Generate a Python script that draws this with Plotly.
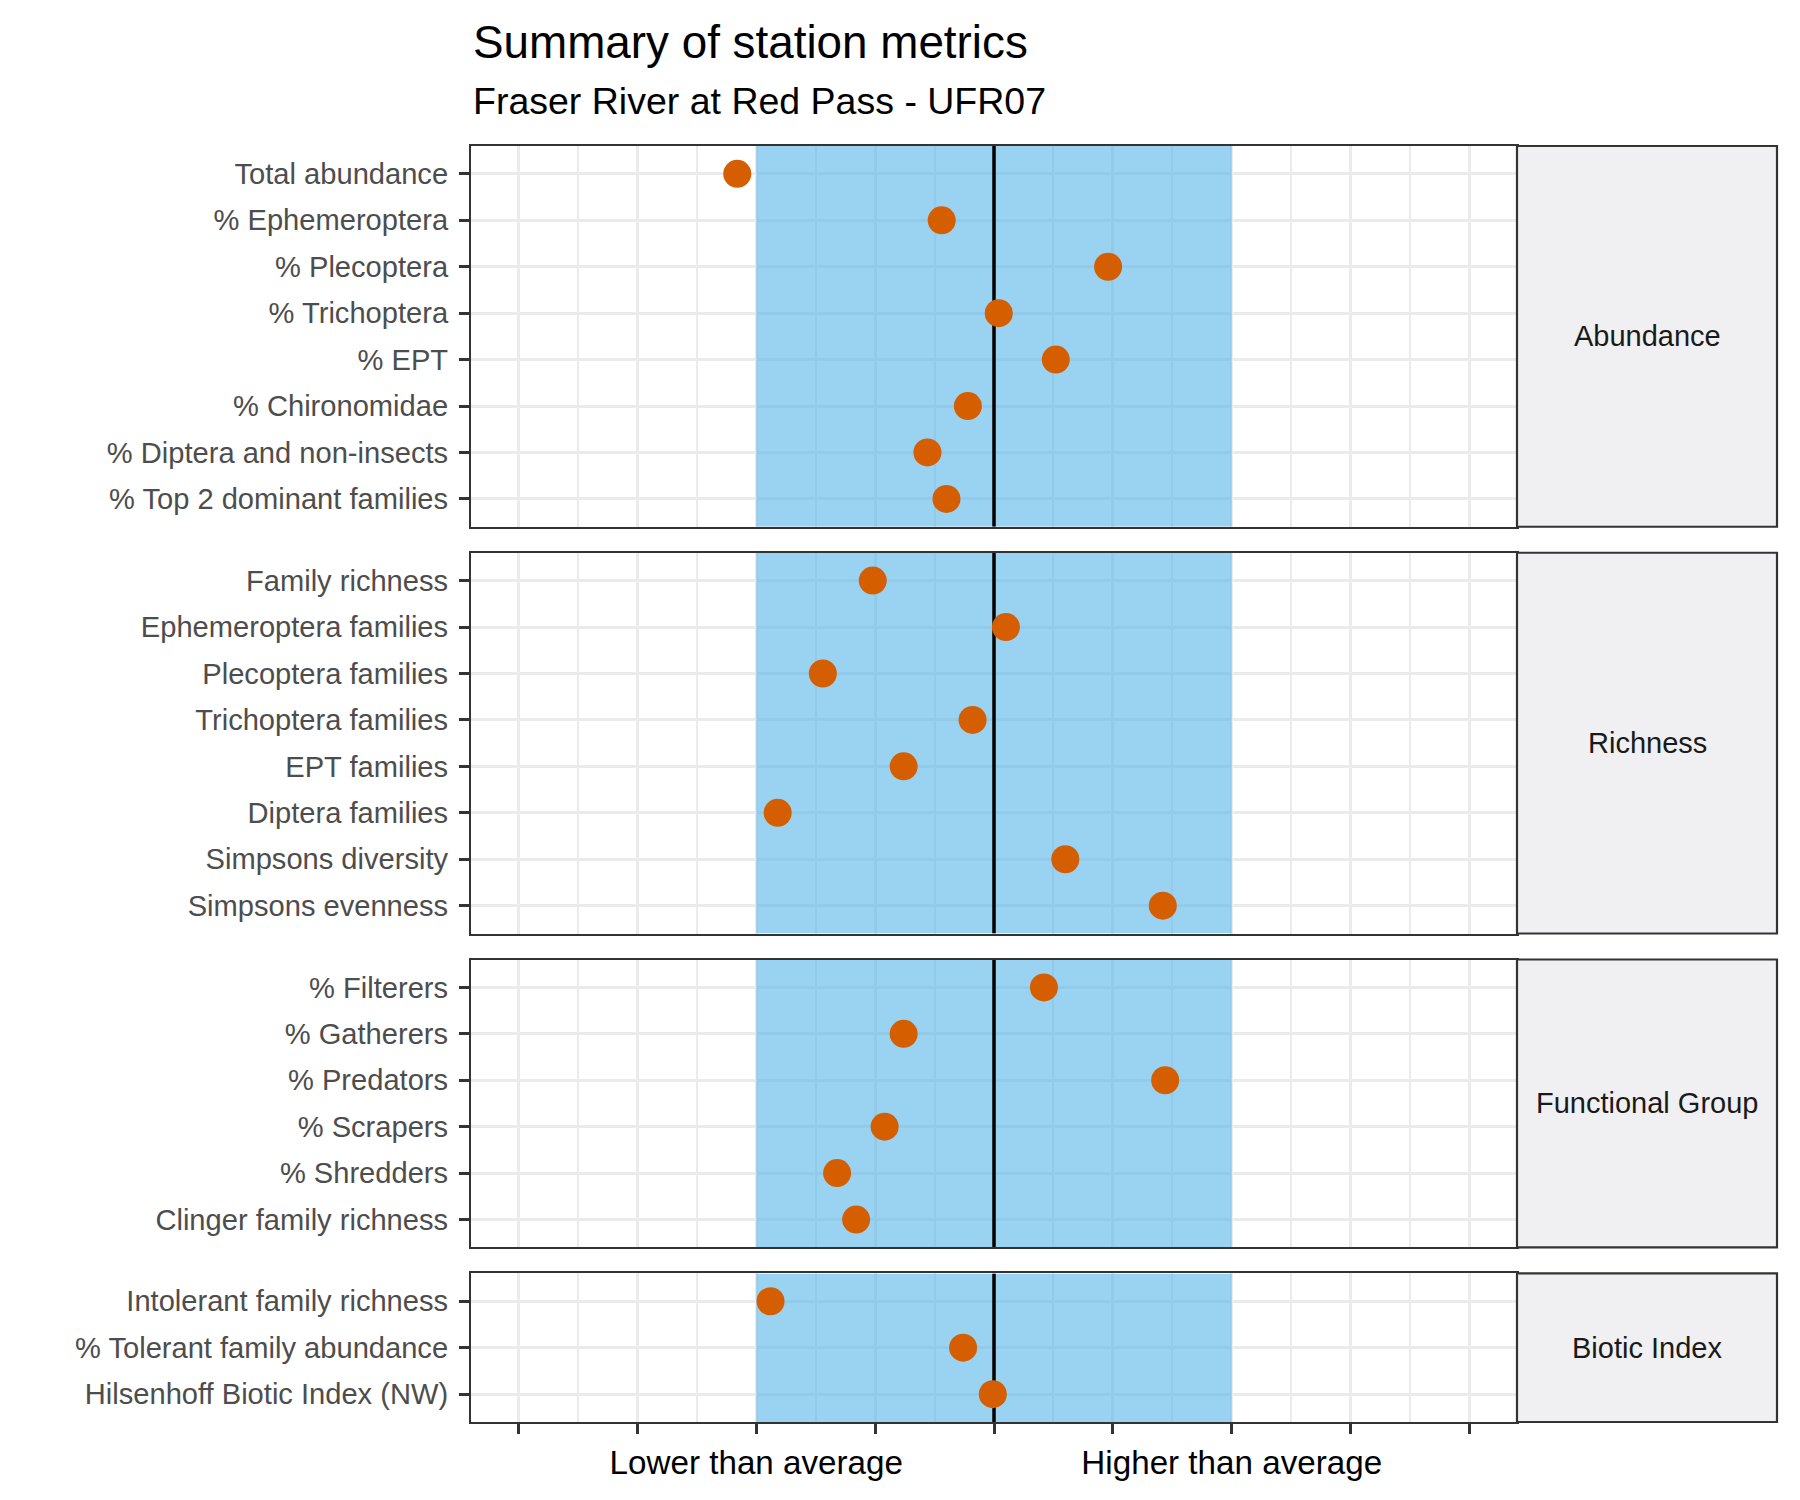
import plotly.graph_objects as go

# ---------------- data ----------------
title_text = "Summary of station metrics"
subtitle_text = "Fraser River at Red Pass - UFR07"

groups = ["Abundance", "Richness", "Functional Group", "Biotic Index"]

abundance_metrics = ["Total abundance", "% Ephemeroptera", "% Plecoptera", "% Trichoptera",
                     "% EPT", "% Chironomidae", "% Diptera and non-insects",
                     "% Top 2 dominant families"]
abundance_values = [-1.08, -0.22, 0.48, 0.02, 0.26, -0.11, -0.28, -0.20]

richness_metrics = ["Family richness", "Ephemeroptera families", "Plecoptera families",
                    "Trichoptera families", "EPT families", "Diptera families",
                    "Simpsons diversity", "Simpsons evenness"]
richness_values = [-0.51, 0.05, -0.72, -0.09, -0.38, -0.91, 0.30, 0.71]

functional_metrics = ["% Filterers", "% Gatherers", "% Predators", "% Scrapers",
                      "% Shredders", "Clinger family richness"]
functional_values = [0.21, -0.38, 0.72, -0.46, -0.66, -0.58]

biotic_metrics = ["Intolerant family richness", "% Tolerant family abundance",
                  "Hilsenhoff Biotic Index (NW)"]
biotic_values = [-0.94, -0.13, -0.005]

x_tick_values = [-2, -1.5, -1, -0.5, 0, 0.5, 1, 1.5, 2]
x_tick_labels = ["", "", "Lower than average", "", "", "", "Higher than average", "", ""]
x_minor_values = [-1.75, -1.25, -0.75, -0.25, 0.25, 0.75, 1.25, 1.75]
x_range = [-2.2, 2.2]
band_lower = -1
band_upper = 1
reference_value = 0

panels = [
    (groups[0], abundance_metrics, abundance_values),
    (groups[1], richness_metrics, richness_values),
    (groups[2], functional_metrics, functional_values),
    (groups[3], biotic_metrics, biotic_values),
]

# ---------------- layout geometry ----------------
# page body has an 8px margin, so the figure is drawn 8px smaller and offset
OFF = 8
W, H = 1800 - OFF, 1500 - OFF
left_px, right_px = 471 - OFF, 1517 - OFF
top_px, bottom_px = 146 - OFF, 1422 - OFF
gap_px = 26
strip_w_px = 260
plot_h = bottom_px - top_px
plot_w = right_px - left_px
PAD = 0.6  # discrete-axis expansion

FONT = "Liberation Sans, Arial, Helvetica, sans-serif"
GRID = "#EBEBEB"
BORDER = "#333333"
DOT = "#D55E00"
BAND_FILL = "rgba(86,180,233,0.6)"

units = [len(p[1]) - 1 + 2 * PAD for p in panels]
per_unit = (plot_h - gap_px * (len(panels) - 1)) / sum(units)


def clamp(v):
    return round(min(1.0, max(0.0, v)), 6)


fig = go.Figure()
layout = dict(
    width=W, height=H,
    margin=dict(l=left_px, r=W - right_px, t=top_px, b=H - bottom_px, pad=0),
    plot_bgcolor="white", paper_bgcolor="white",
    font=dict(family=FONT, color="#4D4D4D"),
    showlegend=False,
    hovermode="closest",
)
shapes = []
annotations = []

y_cursor = top_px
n_p = len(panels)
sx1 = 1 + strip_w_px / plot_w
for i, (group, metrics, values) in enumerate(panels):
    sfx = "" if i == 0 else str(i + 1)
    h = units[i] * per_unit
    y0_px, y1_px = y_cursor, y_cursor + h
    y_cursor = y1_px + gap_px
    dom = [clamp((bottom_px - y1_px) / plot_h), clamp((bottom_px - y0_px) / plot_h)]
    is_bottom = i == n_p - 1
    n = len(metrics)
    positions = list(range(n))
    y_lo, y_hi = -PAD, n - 1 + PAD

    xa = dict(
        domain=[0, 1], range=x_range, anchor="y" + sfx,
        tickmode="array", tickvals=x_tick_values, ticktext=x_tick_labels,
        showgrid=True, gridcolor=GRID, gridwidth=3,
        minor=dict(tickmode="array", tickvals=x_minor_values, showgrid=True,
                   gridcolor=GRID, gridwidth=1.5, ticks=""),
        zeroline=False, showline=True, linecolor=BORDER, linewidth=2.2, mirror=True,
        fixedrange=True,
    )
    if i > 0:
        xa["matches"] = "x"
    if is_bottom:
        xa.update(ticks="outside", ticklen=10, tickwidth=2.5, tickcolor=BORDER,
                  showticklabels=True, tickfont=dict(size=33.2, color="#000000", family=FONT),
                  ticklabelstandoff=0)
    else:
        xa.update(ticks="", showticklabels=False)
    layout["xaxis" + sfx] = xa

    ya = dict(
        domain=dom, anchor="x" + sfx, type="linear",
        tickmode="array", tickvals=positions, ticktext=metrics,
        range=[y_hi, y_lo],
        ticks="outside", ticklen=10, tickwidth=2.5, tickcolor=BORDER,
        tickfont=dict(size=29.1, color="#4D4D4D", family=FONT),
        ticklabelstandoff=5,
        showgrid=True, gridcolor=GRID, gridwidth=3,
        zeroline=False, showline=True, linecolor=BORDER, linewidth=2.2, mirror=True,
        fixedrange=True,
    )
    layout["yaxis" + sfx] = ya

    # shaded "average" band (trace so it sits above gridlines)
    fig.add_trace(go.Scatter(
        x=[band_lower, band_upper, band_upper, band_lower, band_lower],
        y=[y_lo, y_lo, y_hi, y_hi, y_lo],
        mode="lines", fill="toself", fillcolor=BAND_FILL,
        line=dict(width=0, color="rgba(0,0,0,0)"),
        xaxis="x" + sfx, yaxis="y" + sfx, hoverinfo="skip",
    ))
    # reference line
    fig.add_trace(go.Scatter(
        x=[reference_value, reference_value], y=[y_lo, y_hi], mode="lines",
        line=dict(color="black", width=3.5),
        xaxis="x" + sfx, yaxis="y" + sfx, hoverinfo="skip",
    ))
    # points
    fig.add_trace(go.Scatter(
        x=values, y=positions, mode="markers", text=metrics,
        marker=dict(color=DOT, size=28, line=dict(width=0)),
        xaxis="x" + sfx, yaxis="y" + sfx, cliponaxis=False,
        hovertemplate="%{text}: %{x}<extra></extra>",
    ))

    # facet strip (paper coordinates)
    shapes.append(dict(type="rect", xref="paper", yref="paper",
                       x0=1, x1=sx1, y0=dom[0], y1=dom[1],
                       fillcolor="#F0F0F2", line=dict(color=BORDER, width=2.2),
                       layer="above"))
    annotations.append(dict(xref="paper", yref="paper",
                            x=(1 + sx1) / 2, y=(dom[0] + dom[1]) / 2, text=group,
                            showarrow=False, xanchor="center", yanchor="middle",
                            font=dict(size=29, color="#1A1A1A", family=FONT)))

annotations.append(dict(xref="paper", yref="paper", x=0,
                        y=(bottom_px - (42.7 - OFF)) / plot_h,
                        text=title_text, showarrow=False, xanchor="left", yanchor="middle",
                        font=dict(size=45.8, color="#000000", family=FONT)))
annotations.append(dict(xref="paper", yref="paper", x=0,
                        y=(bottom_px - (101.5 - OFF)) / plot_h,
                        text=subtitle_text, showarrow=False, xanchor="left", yanchor="middle",
                        font=dict(size=37.5, color="#000000", family=FONT)))

layout["shapes"] = shapes
layout["annotations"] = annotations
fig.update_layout(**layout)

fig.write_html("out.html")
